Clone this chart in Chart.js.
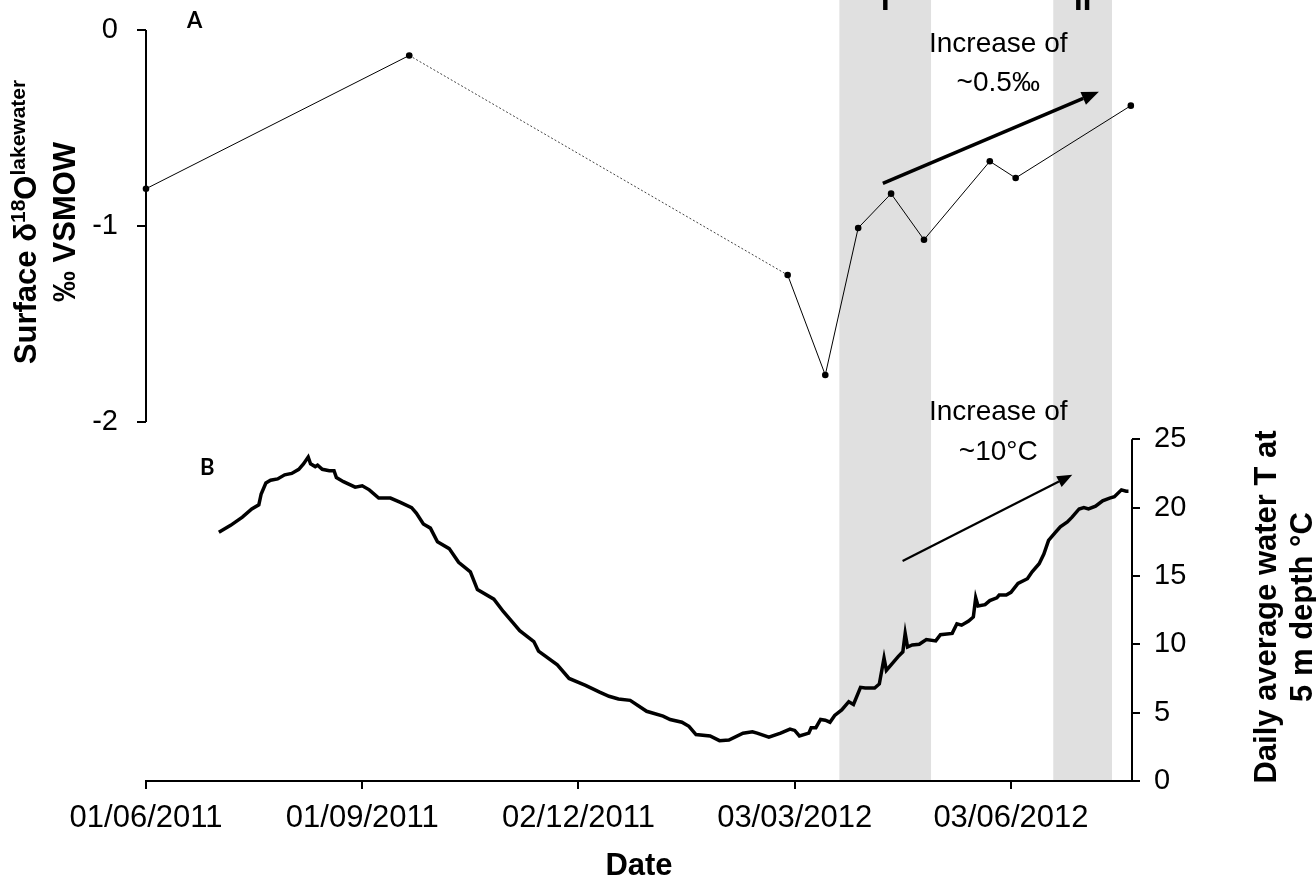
<!DOCTYPE html>
<html>
<head>
<meta charset="utf-8">
<script src="https://cdn.jsdelivr.net/npm/chart.js@4.4.1/dist/chart.umd.min.js"></script>
<style>
  html, body { margin: 0; padding: 0; background: #fff; }
</style>
</head>
<body>
<canvas id="lakeChart" width="1316" height="885"></canvas>
<script>
// all dates are days counted from 01/06/2011
const START = Date.UTC(2011, 5, 1);

// A: surface d18O of lake water (per mil VSMOW)
const isoDays = [0, 112, 273, 289, 303, 317, 331, 359, 370, 419];
const isoValues = [-0.81, -0.13, -1.25, -1.76, -1.01, -0.835, -1.07, -0.67, -0.755, -0.386];

// B: daily average water temperature at 5 m depth (degC)
const tempDays = [
  31, 36, 41, 45, 48, 49, 51, 53, 56, 59, 62, 65, 67, 69, 70, 72, 73, 75, 78, 80,
  81, 84, 89, 92, 95, 99, 104, 108, 113, 115, 118, 121, 124, 129, 133, 138, 141, 148, 152, 156,
  159, 165, 167, 175, 180, 187, 193, 197, 201, 206, 213, 220, 223, 228, 231, 234, 240, 244, 248, 254,
  258, 260, 265, 270, 274, 276, 278, 282, 283, 285, 287, 289, 291, 293, 296, 299, 301, 304, 306, 310,
  312, 314, 315, 317, 320, 322, 323, 324, 326, 329, 332, 336, 338, 343, 345, 347, 350, 352, 353, 354,
  357, 359, 362, 363, 366, 368, 371, 375, 377, 380, 382, 384, 387, 389, 392, 394, 397, 399, 401, 404,
  407, 410, 412, 415, 417, 418
];
const tempValues = [
  18.2, 18.7, 19.3, 19.9, 20.2, 21.0, 21.8, 22.0, 22.1, 22.4, 22.5, 22.8, 23.2, 23.7, 23.2, 23.0, 23.1, 22.8, 22.7, 22.7,
  22.2, 21.9, 21.5, 21.6, 21.3, 20.7, 20.7, 20.4, 20.0, 19.6, 18.8, 18.5, 17.5, 17.0, 16.0, 15.3, 14.0, 13.3, 12.4, 11.6,
  11.0, 10.2, 9.5, 8.5, 7.5, 7.0, 6.5, 6.2, 6.0, 5.9, 5.1, 4.75, 4.5, 4.3, 4.0, 3.4, 3.3, 2.95, 3.0, 3.5,
  3.6, 3.5, 3.2, 3.5, 3.8, 3.7, 3.3, 3.5, 3.9, 3.9, 4.5, 4.45, 4.3, 4.8, 5.2, 5.8, 5.6, 6.85, 6.8, 6.8,
  7.1, 9.0, 8.1, 8.5, 9.1, 9.45, 10.8, 9.8, 9.95, 10.0, 10.35, 10.25, 10.7, 10.8, 11.5, 11.4, 11.7, 12.0, 13.4, 12.8,
  12.9, 13.2, 13.4, 13.6, 13.6, 13.8, 14.45, 14.8, 15.3, 15.9, 16.6, 17.6, 18.2, 18.6, 18.95, 19.3, 19.9, 20.0, 19.9, 20.1,
  20.5, 20.7, 20.8, 21.3, 21.2, 21.2
];

// tick labels
const xTicks = [0, 92, 184, 276, 368];
const leftTicks = [-2, -1, 0];
const rightTicks = [0, 5, 10, 15, 20, 25];

// shaded periods I and II
const bandLabels = ["I", "II"];
const bandStarts = [295, 386];
const bandEnds = [334, 411];

const FONT = "'Liberation Sans', Arial, sans-serif";

function dayLabel(d) {
  const dt = new Date(START + d * 86400000);
  const dd = String(dt.getUTCDate()).padStart(2, "0");
  const mm = String(dt.getUTCMonth() + 1).padStart(2, "0");
  return dd + "/" + mm + "/" + dt.getUTCFullYear();
}

function drawArrow(ctx, x0, y0, x1, y1, lw, headLen, headW) {
  const a = Math.atan2(y1 - y0, x1 - x0);
  const bx = x1 - headLen * Math.cos(a);
  const by = y1 - headLen * Math.sin(a);
  ctx.lineWidth = lw;
  ctx.beginPath();
  ctx.moveTo(x0, y0);
  ctx.lineTo(bx, by);
  ctx.stroke();
  const nx = -Math.sin(a) * headW / 2, ny = Math.cos(a) * headW / 2;
  ctx.beginPath();
  ctx.moveTo(x1, y1);
  ctx.lineTo(bx + nx, by + ny);
  ctx.lineTo(bx - nx, by - ny);
  ctx.closePath();
  ctx.fill();
}

const decorations = {
  id: "decorations",
  beforeDraw(chart) {
    const { ctx, chartArea, scales } = chart;
    ctx.save();
    ctx.fillStyle = "#e0e0e0";
    bandStarts.forEach((s, i) => {
      const x0 = scales.x.getPixelForValue(s);
      const x1 = scales.x.getPixelForValue(bandEnds[i]);
      ctx.fillRect(x0, 0, x1 - x0, chartArea.bottom - 1);
    });
    ctx.restore();
  },
  afterDraw(chart) {
    const { ctx, chartArea, scales } = chart;
    const x = scales.x, yl = scales.y, yr = scales.y2;
    ctx.save();
    ctx.strokeStyle = "#000";
    ctx.fillStyle = "#000";

    // partial axis lines
    ctx.lineWidth = 2;
    ctx.beginPath();
    ctx.moveTo(chartArea.left, yl.getPixelForValue(0));
    ctx.lineTo(chartArea.left, yl.getPixelForValue(-2));
    ctx.moveTo(chartArea.right, yr.getPixelForValue(0));
    ctx.lineTo(chartArea.right, yr.getPixelForValue(25));
    ctx.stroke();

    // band labels, cut off at the top edge
    ctx.font = "bold 31px " + FONT;
    ctx.textAlign = "center";
    ctx.textBaseline = "alphabetic";
    bandLabels.forEach((t, i) => {
      const cx = (x.getPixelForValue(bandStarts[i]) + x.getPixelForValue(bandEnds[i])) / 2;
      ctx.fillText(t, cx, 9.5);
    });

    // arrows
    drawArrow(ctx, x.getPixelForValue(313.5), yl.getPixelForValue(-0.782),
      x.getPixelForValue(405.4), yl.getPixelForValue(-0.315), 3.5, 17, 14);
    drawArrow(ctx, x.getPixelForValue(321.9), yr.getPixelForValue(16.1),
      x.getPixelForValue(394.1), yr.getPixelForValue(22.4), 2.2, 15, 12);

    // annotations
    ctx.font = "28px " + FONT;
    const ax = x.getPixelForValue(362.6);
    ctx.fillText("Increase of", ax, yl.getPixelForValue(-0.111));
    ctx.fillText("~0.5\u2030", ax, yl.getPixelForValue(-0.309));
    ctx.fillText("Increase of", ax, yr.getPixelForValue(26.4));
    ctx.fillText("~10\u00b0C", ax, yr.getPixelForValue(23.5));

    // panel letters
    ctx.font = "bold 22px Lato, " + FONT;
    ctx.textAlign = "left";
    ctx.fillText("A", x.getPixelForValue(17.4), yl.getPixelForValue(0.01));
    ctx.fillText("B", x.getPixelForValue(23), yr.getPixelForValue(22.4));

    // left axis title with superscripts
    const parts = [
      ["Surface \u03b4", 31, 0], ["18", 21, 11], ["O", 31, 0], ["lakewater", 21, 11]
    ];
    ctx.save();
    ctx.translate(36, 222);
    ctx.rotate(-Math.PI / 2);
    let total = 0;
    parts.forEach(p => { ctx.font = "bold " + p[1] + "px " + FONT; total += ctx.measureText(p[0]).width; });
    let px = -total / 2;
    parts.forEach(p => {
      ctx.font = "bold " + p[1] + "px " + FONT;
      ctx.fillText(p[0], px, -p[2]);
      px += ctx.measureText(p[0]).width;
    });
    ctx.restore();
    ctx.save();
    ctx.translate(75, 222);
    ctx.rotate(-Math.PI / 2);
    ctx.textAlign = "center";
    ctx.font = "bold 31px " + FONT;
    ctx.fillText("\u2030 VSMOW", 0, 0);
    ctx.restore();

    // right axis title
    ctx.save();
    ctx.font = "bold 31px " + FONT;
    ctx.textAlign = "center";
    ctx.translate(1276, 607);
    ctx.rotate(-Math.PI / 2);
    ctx.fillText("Daily average water T at", 0, 0);
    ctx.fillText("5 m depth \u00b0C", 0, 36);
    ctx.restore();

    ctx.restore();
  }
};

Chart.defaults.font.family = FONT;
Chart.defaults.color = "#000";

new Chart(document.getElementById("lakeChart"), {
  type: "line",
  data: {
    datasets: [
      {
        label: "Surface d18O",
        data: isoDays.map((d, i) => ({ x: d, y: isoValues[i] })),
        yAxisID: "y",
        borderColor: "#000",
        borderWidth: 1,
        pointRadius: 3.3,
        pointBackgroundColor: "#000",
        pointBorderWidth: 0,
        clip: 8,
        segment: {
          borderDash: c => c.p0DataIndex === 1 ? [2, 2] : undefined,
          borderColor: c => c.p0DataIndex === 1 ? "#444" : undefined
        }
      },
      {
        label: "Water T 5 m",
        data: tempDays.map((d, i) => ({ x: d, y: tempValues[i] })),
        yAxisID: "y2",
        borderColor: "#000",
        borderWidth: 3.5,
        pointRadius: 0,
        tension: 0
      }
    ]
  },
  options: {
    responsive: false,
    animation: false,
    layout: { padding: { top: 30, left: 0, right: 0, bottom: 0 } },
    plugins: {
      legend: { display: false },
      tooltip: { enabled: false }
    },
    scales: {
      x: {
        type: "linear",
        min: 0,
        max: 419.5,
        afterFit: s => { s.height = 104; },
        afterBuildTicks: s => { s.ticks = xTicks.map(v => ({ value: v })); },
        ticks: {
          callback: v => dayLabel(v),
          autoSkip: false,
          maxRotation: 0,
          padding: 11,
          font: { size: 31 }
        },
        grid: { drawOnChartArea: false, tickLength: 8, color: "#000", lineWidth: 2 },
        border: { display: true, color: "#000", width: 2 },
        title: {
          display: true,
          text: "Date",
          font: { size: 31, weight: "bold" },
          padding: { top: 0, bottom: 0 }
        }
      },
      y: {
        position: "left",
        min: -3.8316,
        max: 0,
        afterFit: s => { s.width = 146; s.paddingTop = 0; s.paddingBottom = 0; },
        afterBuildTicks: s => { s.ticks = leftTicks.map(v => ({ value: v })); },
        ticks: { callback: v => String(v), padding: 19, font: { size: 29 } },
        grid: { drawOnChartArea: false, tickLength: 9, color: "#000", lineWidth: 2 },
        border: { display: false }
      },
      y2: {
        position: "right",
        min: 0,
        max: 54.94,
        afterFit: s => { s.width = 184; s.paddingTop = 0; s.paddingBottom = 0; },
        afterBuildTicks: s => { s.ticks = rightTicks.map(v => ({ value: v })); },
        ticks: { callback: v => String(v), padding: 14, font: { size: 29 } },
        grid: { drawOnChartArea: false, tickLength: 8, color: "#000", lineWidth: 2 },
        border: { display: false }
      }
    }
  },
  plugins: [decorations]
});
</script>
</body>
</html>
